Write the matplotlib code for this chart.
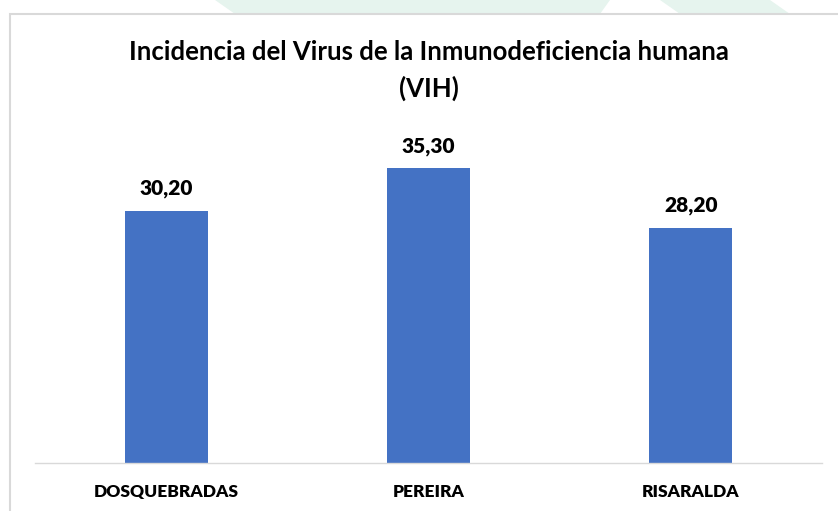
import numpy as np
import matplotlib.pyplot as plt
from matplotlib.patches import Rectangle, Polygon

# Datos
municipios = ['DOSQUEBRADAS', 'PEREIRA', 'RISARALDA']
incidencia = [30.20, 35.30, 28.20]
etiquetas = ['30,20', '35,30', '28,20']

azul = '#4472C4'
plt.rcParams['font.family'] = ['Lato', 'DejaVu Sans']

W, H = 838, 511
fig = plt.figure(figsize=(W / 100, H / 100), dpi=100)

# Marca de agua tenue en la franja superior
for pts in [[(215, 0), (350, 0), (365, 14), (235, 14)],
            [(295, 0), (610, 0), (600, 14), (300, 14)],
            [(660, 0), (770, 0), (790, 14), (680, 14)]]:
    fig.patches.append(Polygon([(x / W, 1 - y / H) for x, y in pts],
                               closed=True, transform=fig.transFigure,
                               facecolor='#e6f4ee', edgecolor='none', zorder=0))

# Marco del grafico
fig.patches.append(Rectangle((10 / W, -0.01), 1.0, 1 - 14 / H + 0.01,
                             transform=fig.transFigure, facecolor='white',
                             edgecolor='#d9d9d9', linewidth=1.5, zorder=1))

ax = fig.add_axes([35 / W, (H - 463) / H, (822 - 35) / W, (463 - 129) / H])
ax.set_zorder(2)
ax.patch.set_alpha(0)

x = np.arange(len(municipios))
bars = ax.bar(x, incidencia, width=0.316, color=azul)

for b, lab in zip(bars, etiquetas):
    ax.annotate(lab, (b.get_x() + b.get_width() / 2, b.get_height()),
                xytext=(0, 9), textcoords='offset points', ha='center',
                va='bottom', fontsize=15, fontweight='heavy', color='#000000')

ax.set_xlim(-0.5, 2.5)
ax.set_ylim(0, 40)
ax.set_xticks(x)
ax.set_xticklabels(municipios, fontsize=12.5, fontweight='heavy')
ax.tick_params(axis='x', length=0, pad=15)
ax.set_yticks([])
for s in ['top', 'right', 'left']:
    ax.spines[s].set_visible(False)
ax.spines['bottom'].set_color('#d9d9d9')
ax.spines['bottom'].set_linewidth(1)

fig.text(429 / W, 1 - 52 / H, 'Incidencia del Virus de la Inmunodeficiencia humana',
         ha='center', va='center', fontsize=18.5, fontweight='bold', zorder=3)
fig.text(429 / W, 1 - 88 / H, '(VIH)', ha='center', va='center',
         fontsize=18.5, fontweight='bold', zorder=3)

fig.savefig('out.png', dpi=100)
